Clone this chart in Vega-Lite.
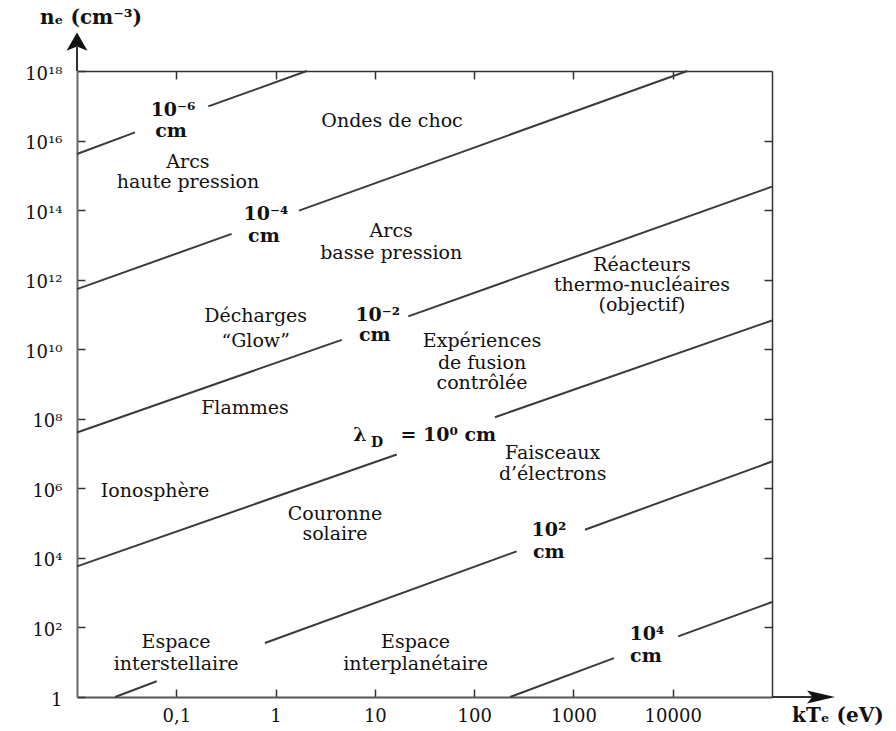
{
  "$schema": "https://vega.github.io/schema/vega-lite/v6.json",
  "width": 695,
  "height": 626,
  "autosize": {"type": "none"},
  "padding": {"left": 77, "top": 71, "right": 124, "bottom": 34},
  "background": "white",
  "config": {"view": {"stroke": null}, "font": "DejaVu Serif"},
  "datasets": {
    "lines": [
      {"lam": "1e-6", "seg": 1, "T": 0.01, "n": 4.12e15},
      {"lam": "1e-6", "seg": 1, "T": 0.0384, "n": 1.72e16},
      {"lam": "1e-6", "seg": 2, "T": 0.21, "n": 9.6e16},
      {"lam": "1e-6", "seg": 2, "T": 2.06, "n": 1e18},
      {"lam": "1e-4", "seg": 1, "T": 0.01, "n": 5.33e11},
      {"lam": "1e-4", "seg": 1, "T": 0.361, "n": 2.07e13},
      {"lam": "1e-4", "seg": 2, "T": 1.72, "n": 9.7e13},
      {"lam": "1e-4", "seg": 2, "T": 14000, "n": 1e18},
      {"lam": "1e-2", "seg": 1, "T": 0.01, "n": 4.04e7},
      {"lam": "1e-2", "seg": 1, "T": 4.64, "n": 1.86e10},
      {"lam": "1e-2", "seg": 2, "T": 21.7, "n": 8.8e10},
      {"lam": "1e-2", "seg": 2, "T": 100000, "n": 4.73e14},
      {"lam": "1e0", "seg": 1, "T": 0.01, "n": 5700},
      {"lam": "1e0", "seg": 1, "T": 16.6, "n": 9.4e6},
      {"lam": "1e0", "seg": 2, "T": 162, "n": 1.11e8},
      {"lam": "1e0", "seg": 2, "T": 100000, "n": 6.7e10},
      {"lam": "1e2", "seg": 1, "T": 0.0242, "n": 1},
      {"lam": "1e2", "seg": 1, "T": 0.0635, "n": 2.83},
      {"lam": "1e2", "seg": 2, "T": 0.781, "n": 35.6},
      {"lam": "1e2", "seg": 2, "T": 268, "n": 15400},
      {"lam": "1e2", "seg": 3, "T": 1306, "n": 64600},
      {"lam": "1e2", "seg": 3, "T": 100000, "n": 5.9e6},
      {"lam": "1e4", "seg": 1, "T": 230, "n": 1},
      {"lam": "1e4", "seg": 1, "T": 2558, "n": 13.1},
      {"lam": "1e4", "seg": 2, "T": 11350, "n": 55.5},
      {"lam": "1e4", "seg": 2, "T": 100000, "n": 537}
    ],
    "regions": [
      {"label": "Ondes de choc", "T": 14.9, "n": 2.51e16},
      {"label": "Arcs", "T": 0.131, "n": 1.63e15},
      {"label": "haute pression", "T": 0.131, "n": 4.34e14},
      {"label": "Arcs", "T": 14.6, "n": 1.65e13},
      {"label": "basse pression", "T": 14.6, "n": 3.96e12},
      {"label": "Décharges", "T": 0.63, "n": 5.97e10},
      {"label": "“Glow”", "T": 0.63, "n": 1.14e10},
      {"label": "Flammes", "T": 0.492, "n": 1.39e8},
      {"label": "Ionosphère", "T": 0.061, "n": 5.59e5},
      {"label": "Couronne", "T": 3.96, "n": 1.2e5},
      {"label": "solaire", "T": 3.96, "n": 31800},
      {"label": "Espace", "T": 0.0995, "n": 25},
      {"label": "interstellaire", "T": 0.0995, "n": 6.13},
      {"label": "Espace", "T": 25.7, "n": 25},
      {"label": "interplanétaire", "T": 25.7, "n": 6.13},
      {"label": "Réacteurs", "T": 4900, "n": 1.83e12},
      {"label": "thermo-nucléaires", "T": 4900, "n": 4.86e11},
      {"label": "(objectif)", "T": 4900, "n": 1.29e11},
      {"label": "Expériences", "T": 120, "n": 1.14e10},
      {"label": "de fusion", "T": 120, "n": 2.73e9},
      {"label": "contrôlée", "T": 120, "n": 7.28e8},
      {"label": "Faisceaux", "T": 618, "n": 7.09e6},
      {"label": "d’électrons", "T": 618, "n": 1.77e6}
    ],
    "lineLabels": [
      {"label": "10⁻⁶", "T": 0.0927, "n": 5.2e16},
      {"label": "cm", "T": 0.0885, "n": 1.24e16},
      {"label": "10⁻⁴", "T": 0.8, "n": 5.23e13},
      {"label": "cm", "T": 0.764, "n": 1.19e13},
      {"label": "10⁻²", "T": 10.7, "n": 6.68e10},
      {"label": "cm", "T": 10.0, "n": 1.7e10},
      {"label": "λ", "T": 7.08, "n": 2.23e7},
      {"label": "= 10⁰ cm", "T": 55, "n": 2.23e7},
      {"label": "10²", "T": 566, "n": 41500},
      {"label": "cm", "T": 566, "n": 10100},
      {"label": "10⁴", "T": 5495, "n": 42.6},
      {"label": "cm", "T": 5370, "n": 10.1}
    ],
    "subs": [
      {"label": "D", "T": 10.5, "n": 1.53e7}
    ],
    "titles": [
      {"label": "nₑ (cm⁻³)", "T": 0.01384, "n": 2.24e19},
      {"label": "kTₑ (eV)", "T": 461000, "n": 0.191}
    ],
    "axisLines": [
      {"T": 0.01, "T2": 0.01, "n": 1e18, "n2": 5e18},
      {"T": 100000, "T2": 300000, "n": 1, "n2": 1}
    ],
    "headX": [{"T": 311000, "n": 1}],
    "headY": [{"T": 0.01, "n": 6.41e18}]
  },
  "resolve": {"axis": {"x": "independent", "y": "independent"}},
  "layer": [
    {
      "data": {"name": "lines"},
      "mark": {"type": "line", "color": "#3a3a3a", "strokeWidth": 2},
      "encoding": {
        "x": {
          "field": "T", "type": "quantitative",
          "scale": {"type": "log", "domain": [0.01, 100000], "nice": false},
          "axis": {
            "orient": "bottom", "values": [0.1, 1, 10, 100, 1000, 10000],
            "labelExpr": "datum.value < 0.5 ? '0,1' : format(datum.value, 'd')",
            "title": null, "grid": false, "tickSize": -8, "tickColor": "#333", "tickWidth": 1.5,
            "domainColor": "#555", "domainWidth": 2,
            "labelFont": "DejaVu Serif", "labelFontSize": 18, "labelColor": "#111",
            "labelPadding": 18, "labelFlush": false, "labelOverlap": false
          }
        },
        "y": {
          "field": "n", "type": "quantitative",
          "scale": {"type": "log", "domain": [1, 1e18], "nice": false},
          "axis": {
            "orient": "left", "values": [1, 100, 10000, 1000000, 100000000, 1e10, 1e12, 1e14, 1e16, 1e18],
            "labelExpr": "datum.value < 2 ? '1' : '10' + ['','','²','','⁴','','⁶','','⁸','','¹⁰','','¹²','','¹⁴','','¹⁶','','¹⁸'][round(log(datum.value)/LN10)]",
            "title": null, "grid": false, "tickSize": -8, "tickColor": "#333", "tickWidth": 1.5,
            "domainColor": "#666", "domainWidth": 2,
            "labelFont": "DejaVu Serif", "labelFontSize": 18, "labelColor": "#111",
            "labelPadding": 23, "labelFlush": false, "labelOverlap": false, "labelOffset": 3
          }
        },
        "detail": [{"field": "lam"}, {"field": "seg"}],
        "order": {"field": "T"}
      }
    },
    {
      "data": {"name": "regions"},
      "mark": {"type": "text", "align": "center", "baseline": "alphabetic", "fontSize": 19, "font": "DejaVu Serif", "color": "#111"},
      "encoding": {
        "x": {
          "field": "T", "type": "quantitative",
          "axis": {
            "orient": "top", "values": [0.1, 1, 10, 100, 1000, 10000], "labels": false,
            "title": null, "grid": false, "tickSize": -8, "tickColor": "#333", "tickWidth": 1.5,
            "domainColor": "#333", "domainWidth": 1.5
          }
        },
        "y": {
          "field": "n", "type": "quantitative",
          "axis": {
            "orient": "right", "values": [100, 10000, 1000000, 100000000, 1e10, 1e12, 1e14, 1e16], "labels": false,
            "title": null, "grid": false, "tickSize": -8, "tickColor": "#333", "tickWidth": 1.5,
            "domainColor": "#333", "domainWidth": 1.5
          }
        },
        "text": {"field": "label"}
      }
    },
    {
      "data": {"name": "lineLabels"},
      "mark": {"type": "text", "align": "center", "baseline": "alphabetic", "fontSize": 19, "fontWeight": "bold", "font": "DejaVu Serif", "color": "#111"},
      "encoding": {
        "x": {"field": "T", "type": "quantitative", "axis": null},
        "y": {"field": "n", "type": "quantitative", "axis": null},
        "text": {"field": "label"}
      }
    },
    {
      "data": {"name": "subs"},
      "mark": {"type": "text", "align": "center", "baseline": "alphabetic", "fontSize": 14, "fontWeight": "bold", "font": "DejaVu Serif", "color": "#111"},
      "encoding": {
        "x": {"field": "T", "type": "quantitative", "axis": null},
        "y": {"field": "n", "type": "quantitative", "axis": null},
        "text": {"field": "label"}
      }
    },
    {
      "data": {"name": "titles"},
      "mark": {"type": "text", "align": "center", "baseline": "alphabetic", "fontSize": 20, "fontWeight": "bold", "font": "DejaVu Serif", "color": "#111", "clip": false},
      "encoding": {
        "x": {"field": "T", "type": "quantitative", "axis": null},
        "y": {"field": "n", "type": "quantitative", "axis": null},
        "text": {"field": "label"}
      }
    },
    {
      "data": {"name": "axisLines"},
      "mark": {"type": "rule", "color": "#333", "strokeWidth": 2, "clip": false},
      "encoding": {
        "x": {"field": "T", "type": "quantitative", "axis": null},
        "x2": {"field": "T2"},
        "y": {"field": "n", "type": "quantitative", "axis": null},
        "y2": {"field": "n2"}
      }
    },
    {
      "data": {"name": "headX"},
      "mark": {"type": "point", "filled": true, "color": "#111", "opacity": 1, "size": 784, "shape": "M1,0L-1,-0.47L-0.6,0L-1,0.47Z", "clip": false},
      "encoding": {
        "x": {"field": "T", "type": "quantitative", "axis": null},
        "y": {"field": "n", "type": "quantitative", "axis": null}
      }
    },
    {
      "data": {"name": "headY"},
      "mark": {"type": "point", "filled": true, "color": "#111", "opacity": 1, "size": 441, "shape": "M0,-1L1,0.75L0,0.35L-1,0.75Z", "clip": false},
      "encoding": {
        "x": {"field": "T", "type": "quantitative", "axis": null},
        "y": {"field": "n", "type": "quantitative", "axis": null}
      }
    }
  ]
}
